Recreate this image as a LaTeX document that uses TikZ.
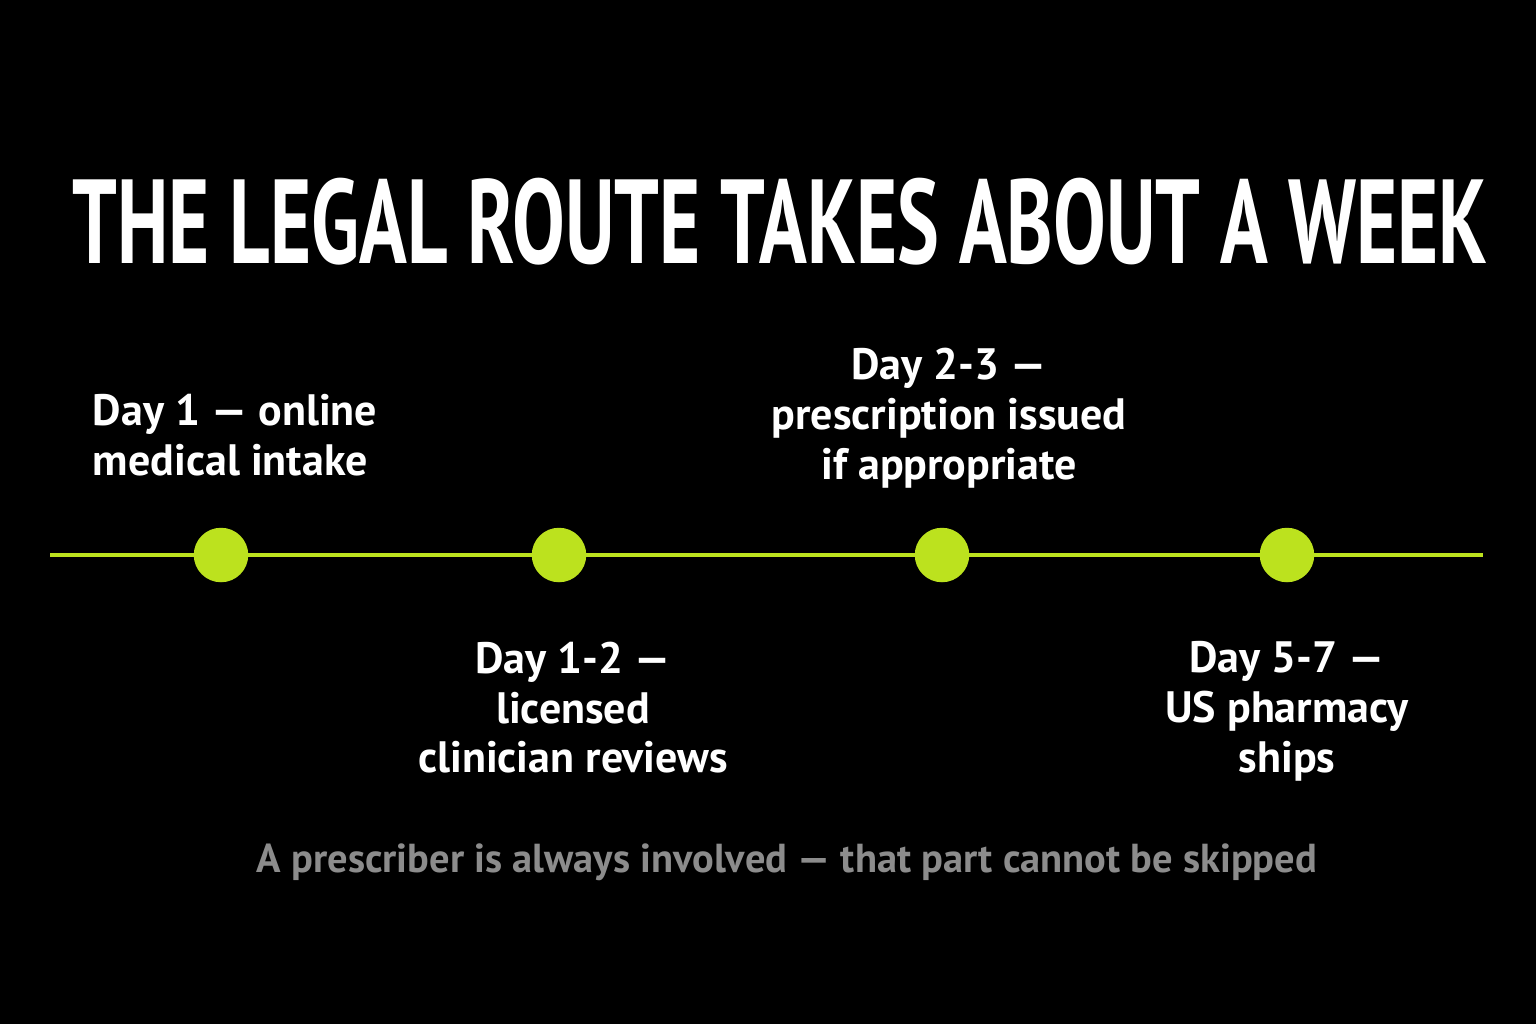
\documentclass[tikz,border=0pt]{standalone}
\usepackage{fontspec}
\setmainfont{PT Sans}
\usetikzlibrary{positioning}
\definecolor{lime}{HTML}{BCE21E}
\definecolor{note}{HTML}{8C8C8C}
\tikzset{
  dot/.style={circle,fill=lime,minimum size=15.5pt,inner sep=0pt},
  stage/.style={text=white,font=\bfseries\fontsize{12.5}{14.2}\selectfont,align=center,inner sep=0pt}
}
\begin{document}
\begin{tikzpicture}[x=0.01cm,y=-0.01cm]
\useasboundingbox[fill=black] (0,0) rectangle (1536,1024);
\node[text=white,font=\bfseries\fontsize{34}{34}\selectfont,xscale=0.66] (title) at (780,222) {THE LEGAL ROUTE TAKES ABOUT A WEEK};

\coordinate (start) at (50,555);
\coordinate (end) at (1483,555);
\draw[lime,line width=1.4pt] (start)--(end);
\node[dot] (d1) at (221,555) {};
\node[dot] (d2) at (559,555) {};
\node[dot] (d3) at (942,555) {};
\node[dot] (d4) at (1287,555) {};

\node[stage,align=left,above=0.5cm of d1.north,xshift=4pt] (l1) {Day 1 --- online\\medical intake};
\node[stage,below=0.58cm of d2.south,xshift=4pt] (l2) {Day 1-2 ---\\licensed\\clinician reviews};
\node[stage,above=0.38cm of d3.north,xshift=2pt] (l3) {Day 2-3 ---\\prescription issued\\if appropriate};
\node[stage,below=0.58cm of d4.south] (l4) {Day 5-7 ---\\US pharmacy\\ships};

\node[text=note,font=\bfseries\fontsize{11.5}{14}\selectfont] (foot) at (787,862) {A prescriber is always involved --- that part cannot be skipped};
\end{tikzpicture}
\end{document}
